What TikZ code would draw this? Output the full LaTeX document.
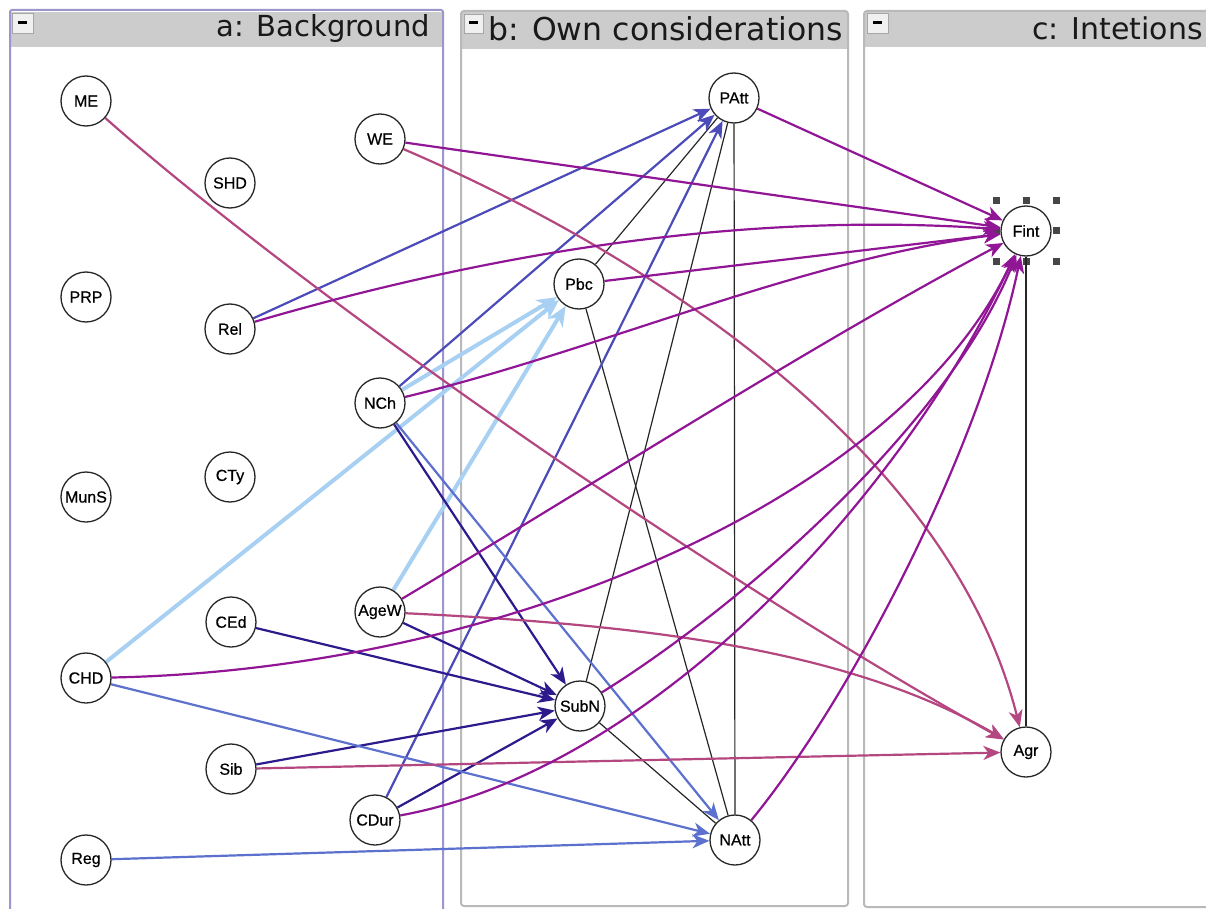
\documentclass[tikz,border=0pt]{standalone}
\usepackage{fontspec}
\setmainfont{Liberation Sans}
\newfontfamily\titlefont{DejaVu Sans}
\newfontfamily\labelfont[FakeBold=0.6]{Liberation Sans}
\usetikzlibrary{arrows.meta}

\definecolor{fintc}{RGB}{145,22,150}
\definecolor{agrc}{RGB}{180,70,128}
\definecolor{pattc}{RGB}{75,75,185}
\definecolor{subnc}{RGB}{45,26,140}
\definecolor{nattc}{RGB}{92,112,205}
\definecolor{pbcc}{RGB}{168,208,242}
\definecolor{framea}{RGB}{155,150,205}
\definecolor{frameb}{RGB}{185,185,185}
\definecolor{headc}{RGB}{204,204,204}
\definecolor{handlec}{RGB}{70,70,70}

\pgfdeclarelayer{panel}
\pgfdeclarelayer{edges}
\pgfsetlayers{panel,edges,main}

\tikzset{
  var/.style={circle, draw=black!85, line width=1.3pt, fill=white,
    minimum size=50pt, inner sep=0pt, font=\labelfont\fontsize{16}{16}\selectfont},
  tip/.style={-{Stealth[length=17pt,width=14pt,inset=5pt]}},
  tofint/.style={draw=fintc, line width=2.2pt, tip},
  toagr/.style={draw=agrc, line width=2.2pt, tip},
  topatt/.style={draw=pattc, line width=2.2pt, tip},
  tosubn/.style={draw=subnc, line width=2.2pt, tip},
  tonatt/.style={draw=nattc, line width=2.2pt, tip},
  topbc/.style={draw=pbcc, line width=4pt,
    -{Stealth[length=20pt,width=17pt,inset=6pt]}},
  undir/.style={draw=black!85, line width=1.2pt},
  header/.style={fill=headc},
  title/.style={anchor=base east, inner sep=0pt, text=black!90},
  minusbox/.style={fill=gray!12, draw=gray!70, line width=0.8pt},
  minusbar/.style={draw=black, line width=3pt},
  handle/.style={fill=handlec, minimum size=7pt, inner sep=0pt, rectangle}
}

\begin{document}
\begin{tikzpicture}[x=1pt,y=-1pt]
\useasboundingbox (0,0) rectangle (1206,909);
\clip (0,0) rectangle (1206,909);

% ---------- panels ----------
\begin{pgfonlayer}{panel}
  \fill[white] (0,0) rectangle (1206,909);
  % a: Background
  \fill[header] (11,12) rectangle (442,47);
  \draw[framea, line width=2pt, rounded corners=2pt] (10,10) rectangle (443,930);
  \draw[minusbox] (12,13) rectangle (33,33);
  \draw[minusbar] (18,23) -- (27,23);
  \node[title, font=\titlefont\fontsize{29}{30}\selectfont] (ta) at (430,37) {a: Background};
  % b: Own considerations
  \fill[header] (462,12) rectangle (847,49);
  \draw[frameb, line width=2pt, rounded corners=3pt] (461,11) rectangle (848,906);
  \draw[minusbox] (464,14) rectangle (483,33);
  \draw[minusbar] (469,23) -- (478,23);
  \node[title, font=\titlefont\fontsize{31.5}{33}\selectfont] (tb) at (843,41) {b: Own considerations};
  % c: Intetions
  \fill[header] (865,12) rectangle (1210,47);
  \draw[frameb, line width=2pt, rounded corners=3pt] (864,11) rectangle (1230,907);
  \draw[minusbox] (867,13) rectangle (888,33);
  \draw[minusbar] (873,23) -- (882,23);
  \node[title, font=\titlefont\fontsize{30}{32}\selectfont] (tc) at (1203,40) {c: Intetions};
  % selection handles around Fint
  \foreach \hx/\hy [count=\i] in {996/201,1026/201,1056/201,996/231,1056/231,996/261,1026/261,1056/261}
    \node[handle] (h\i) at (\hx,\hy) {};
\end{pgfonlayer}

% ---------- variables ----------
\node[var] (ME)   at (86,101)  {ME};
\node[var] (SHD)  at (230,183) {SHD};
\node[var] (PRP)  at (86,297)  {PRP};
\node[var] (Rel)  at (230,329) {Rel};
\node[var] (MunS) at (86,497)  {MunS};
\node[var] (CTy)  at (230,477) {CTy};
\node[var] (CEd)  at (231,622) {CEd};
\node[var] (CHD)  at (86,678)  {CHD};
\node[var] (Sib)  at (231,769) {Sib};
\node[var] (Reg)  at (86,860)  {Reg};
\node[var] (WE)   at (380,139) {WE};
\node[var] (NCh)  at (380,403) {NCh};
\node[var] (AgeW) at (380,612) {AgeW};
\node[var] (CDur) at (375,820) {CDur};
\node[var] (PAtt) at (734,98)  {PAtt};
\node[var] (Pbc)  at (579,284) {Pbc};
\node[var] (SubN) at (580,706) {SubN};
\node[var] (NAtt) at (735,840) {NAtt};
\node[var] (Fint) at (1026,231) {Fint};
\node[var] (Agr)  at (1026,752) {Agr};

% ---------- connectors ----------
\begin{pgfonlayer}{edges}
  % undirected links
  \draw[undir] (PAtt) -- (Pbc);
  \draw[undir] (PAtt) -- (SubN);
  \draw[undir] (PAtt) -- (NAtt);
  \draw[undir] (Pbc) -- (NAtt);
  \draw[undir] (SubN) -- (NAtt);
  \draw[undir] (Fint) -- (Agr);
  % into Pbc
  \draw[topbc] (NCh) -- (Pbc);
  \draw[topbc] (CHD) -- (Pbc);
  \draw[topbc] (AgeW) -- (Pbc);
  % into PAtt
  \draw[topatt] (Rel) -- (PAtt);
  \draw[topatt] (NCh) -- (PAtt);
  \draw[topatt] (CDur) -- (PAtt);
  % into SubN
  \draw[tosubn] (NCh) -- (SubN);
  \draw[tosubn] (AgeW) -- (SubN);
  \draw[tosubn] (CEd) -- (SubN);
  \draw[tosubn] (Sib) -- (SubN);
  \draw[tosubn] (CDur) -- (SubN);
  % into NAtt
  \draw[tonatt] (NCh) -- (NAtt);
  \draw[tonatt] (CHD) -- (NAtt);
  \draw[tonatt] (Reg) -- (NAtt);
  % into Agr
  \draw[toagr] (ME) .. controls (300,290) and (700,570) .. (Agr);
  \draw[toagr] (WE) .. controls (650,255) and (950,450) .. (Agr);
  \draw[toagr] (AgeW) .. controls (650,625) and (850,650) .. (Agr);
  \draw[toagr] (Sib) -- (Agr);
  % into Fint
  \draw[tofint] (WE) -- (Fint);
  \draw[tofint] (PAtt) -- (Fint);
  \draw[tofint] (Pbc) -- (Fint);
  \draw[tofint] (Rel) .. controls (500,250) and (750,212) .. (Fint);
  \draw[tofint] (NCh) .. controls (600,350) and (800,260) .. (Fint);
  \draw[tofint] (AgeW) .. controls (600,480) and (820,340) .. (Fint);
  \draw[tofint] (CHD) .. controls (500,670) and (900,500) .. (Fint);
  \draw[tofint] (CDur) .. controls (650,770) and (900,500) .. (Fint);
  \draw[tofint] (SubN) .. controls (750,600) and (950,420) .. (Fint);
  \draw[tofint] (NAtt) .. controls (850,700) and (980,450) .. (Fint);
\end{pgfonlayer}
\end{tikzpicture}
\end{document}
